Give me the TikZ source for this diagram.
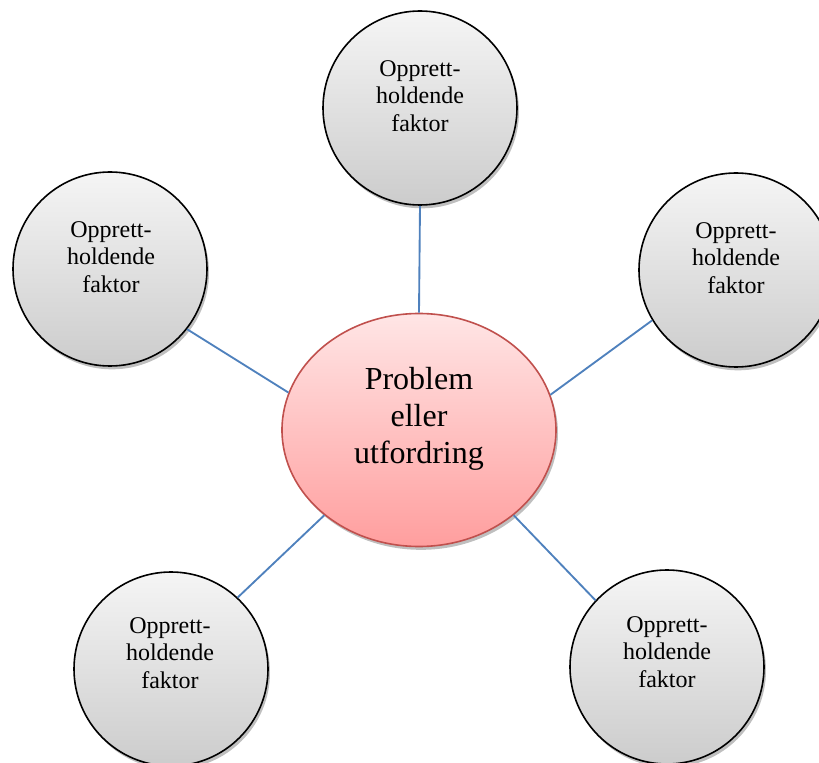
\documentclass[tikz,border=0pt]{standalone}
\usepackage{fontspec}
\setmainfont{Liberation Serif}
\usetikzlibrary{shapes.geometric,shadows}
\definecolor{linkblue}{RGB}{79,129,189}
\definecolor{rimred}{RGB}{192,80,77}
\tikzset{
  factor/.style={circle, draw=black, line width=1.2pt, minimum size=145.5pt, inner sep=0pt,
    top color=gray!8, bottom color=gray!40,
    drop shadow={shadow xshift=1.5pt, shadow yshift=-2.5pt, opacity=0.25, fill=black}},
  ftext/.style={align=center, inner sep=0pt, font=\fontsize{18}{20.7}\selectfont},
  core/.style={ellipse, draw=rimred, line width=1.2pt, minimum width=205.5pt, minimum height=174.75pt, inner sep=0pt,
    top color=red!10, bottom color=red!38,
    drop shadow={shadow xshift=1.5pt, shadow yshift=-2.5pt, opacity=0.25, fill=black}},
  ctext/.style={align=center, inner sep=0pt, font=\fontsize{24}{27.6}\selectfont},
  link/.style={draw=linkblue, line width=1.4pt}
}
\begin{document}
\begin{tikzpicture}[x=0.75pt, y=-0.75pt]
\useasboundingbox (0,0) rectangle (819,763);
\node[core] (c) at (419,430) {};
\node[ctext] (ct) at (419,419) {Problem\\eller\\utfordring};
\node[factor] (t) at (420,108) {};
\node[ftext] (tt) at (420,96) {Opprett-\\holdende\\faktor};
\node[factor] (l) at (110,269) {};
\node[ftext] (lt) at (111,257) {Opprett-\\holdende\\faktor};
\node[factor] (r) at (736,270) {};
\node[ftext] (rt) at (736,258) {Opprett-\\holdende\\faktor};
\node[factor] (bl) at (171,669) {};
\node[ftext] (blt) at (170,653) {Opprett-\\holdende\\faktor};
\node[factor] (br) at (667,667) {};
\node[ftext] (brt) at (667,652) {Opprett-\\holdende\\faktor};
\draw[link] (t.south) -- (c.north);
\draw[link] (l.-38) -- (c.164);
\draw[link] (r.-149) -- (c.15);
\draw[link] (bl.47) -- (c.222);
\draw[link] (br.137) -- (c.318);
\end{tikzpicture}
\end{document}
